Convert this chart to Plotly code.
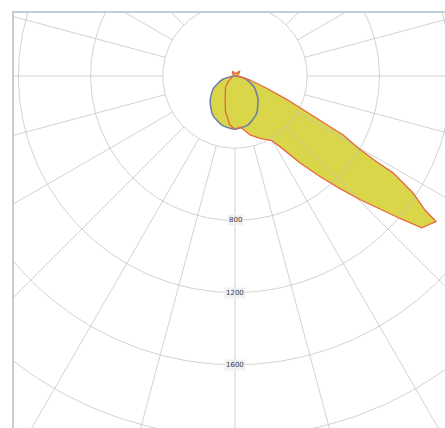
import numpy as np
import plotly.graph_objects as go

# ---- data (angle from nadir in degrees, positive to the right; intensity in cd) ----
c0_angles = [-180, -165, -150, -135, -120, -105, -90, -75, -60, -50, -40, -30, -24, -15, -6,
             0, 5.6, 10, 14.3, 21.9, 29.6, 32.5, 34.8, 36.8, 40.2, 43, 45.3, 47.4, 49.2, 50.9, 54.1,
             54.8, 56.7, 58.5, 58.8, 59.7, 61.4, 61.9, 62.6, 63.5, 65.7, 68.8, 75, 82,
             90, 105, 120, 135, 150, 165, 180]
c0_values = [10, 22, 30, 20, 12, 8, 8, 14, 25, 49, 82, 112, 135, 204, 273,
             294, 284, 305, 337, 372, 412, 464, 533, 602, 729, 853, 973, 1092, 1208, 1333, 1375,
             1288, 1180, 1027, 917, 790, 683, 597, 510, 423, 314, 188, 86, 30,
             12, 15, 25, 38, 25, 15, 10]

c90_angles = [-90, -75, -60, -45, -30, -15, 0, 15, 30, 45, 60, 75, 90]
c90_values = [6, 70, 138, 195, 248, 282, 295, 280, 240, 180, 122, 60, 6]

ring_values = [400, 800, 1200, 1600, 2000, 2400]
ring_labels = ["800", "1200", "1600"]
label_values = [800, 1200, 1600]
spoke_angles = list(range(0, 360, 15))

FILL = "#d9d64a"
RED = "#e8673c"
BLUE = "#6f7fa6"
GRID = "rgba(195,195,195,0.75)"


def to_xy(angles, values):
    a = np.radians(np.asarray(angles, dtype=float))
    r = np.asarray(values, dtype=float)
    return r * np.sin(a), -r * np.cos(a)


fig = go.Figure()

# fills
for ang, val in [(c90_angles, c90_values), (c0_angles, c0_values)]:
    x, y = to_xy(ang, val)
    fig.add_trace(go.Scatter(x=x, y=y, mode="lines", fill="toself", fillcolor=FILL,
                             line=dict(width=0, color=FILL), hoverinfo="skip", showlegend=False))

# grid rings
t = np.linspace(0, 360, 361)
for rv in ring_values:
    x, y = to_xy(t, np.full_like(t, rv))
    fig.add_trace(go.Scatter(x=x, y=y, mode="lines", line=dict(color=GRID, width=1),
                             hoverinfo="skip", showlegend=False))
# spokes
inner = ring_values[0]
outer = 4000
for a in spoke_angles:
    x, y = to_xy([a, a], [inner, outer])
    fig.add_trace(go.Scatter(x=x, y=y, mode="lines", line=dict(color=GRID, width=1),
                             hoverinfo="skip", showlegend=False))

# outlines
x, y = to_xy(c90_angles, c90_values)
fig.add_trace(go.Scatter(x=np.append(x, x[0]), y=np.append(y, y[0]), mode="lines",
                         line=dict(color=BLUE, width=1.6, shape="spline", smoothing=0.6),
                         showlegend=False))
x, y = to_xy(c0_angles, c0_values)
fig.add_trace(go.Scatter(x=np.append(x, x[0]), y=np.append(y, y[0]), mode="lines",
                         line=dict(color=RED, width=1.3), showlegend=False))

# radial labels along the nadir spoke
for lv, lt in zip(label_values, ring_labels):
    lx, ly = to_xy([0], [lv])
    fig.add_annotation(x=float(lx[0]), y=float(ly[0]), text=lt, showarrow=False,
                       font=dict(size=7, color="#3a3a3a", family="DejaVu Sans"),
                       bgcolor="rgba(240,240,240,0.9)", borderpad=1)

W, H = 445, 428
ml, mt = 14, 13
cx, cy = 235, 76        # pixel position of the pole
upp = 400 / 72.2        # cd per pixel

fig.update_layout(
    width=W, height=H,
    margin=dict(l=ml, r=0, t=mt, b=0, pad=0),
    paper_bgcolor="white", plot_bgcolor="white",
    hovermode=False,
    xaxis=dict(range=[(ml - cx) * upp, (W - cx) * upp], showgrid=False, zeroline=False,
               showticklabels=False, ticks="", showline=True, side="top",
               linecolor="#c2cfd9", linewidth=2),
    yaxis=dict(range=[-(H - cy) * upp, (cy - mt) * upp], showgrid=False, zeroline=False,
               showticklabels=False, ticks="", showline=True, side="left",
               linecolor="#c2cfd9", linewidth=2),
)

fig.write_html("out.html", config={"displayModeBar": False},
               post_script="document.body.style.margin='0';document.body.style.overflow='hidden';")
